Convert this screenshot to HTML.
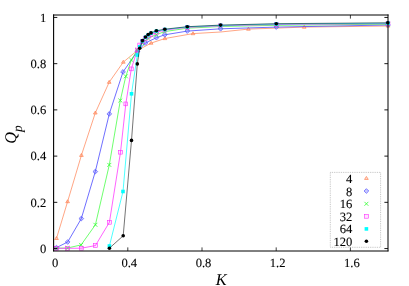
<!DOCTYPE html>
<html><head><meta charset="utf-8"><title>Qp vs K</title>
<style>
html,body{margin:0;padding:0;background:#fff;}
body{width:409px;height:286px;overflow:hidden;font-family:"Liberation Serif",serif;}
svg{display:block;will-change:transform;}
</style></head><body>
<svg width="409" height="286" viewBox="0 0 409 286">
<rect x="0" y="0" width="409" height="286" fill="#fff"/>
<polyline fill="none" stroke="#ff7f50" stroke-width="0.7" points="56.5,238.4 67.6,201.6 81.4,155.3 95.3,112.9 109.2,82.2 123.3,62.1 137.3,50.5 151.1,43.1 164.9,38.5 193.0,33.6 220.6,32.0 248.4,29.1 304.2,27.1 388.0,26.0"/>
<path d="M56.50 236.55 L58.35 239.51 L54.65 239.51 Z" fill="#ff7f50" fill-opacity="0.25" stroke="#ff7f50" stroke-width="0.7"/>
<path d="M67.60 199.75 L69.45 202.71 L65.75 202.71 Z" fill="#ff7f50" fill-opacity="0.25" stroke="#ff7f50" stroke-width="0.7"/>
<path d="M81.40 153.45 L83.25 156.41 L79.55 156.41 Z" fill="#ff7f50" fill-opacity="0.25" stroke="#ff7f50" stroke-width="0.7"/>
<path d="M95.30 111.05 L97.15 114.01 L93.45 114.01 Z" fill="#ff7f50" fill-opacity="0.25" stroke="#ff7f50" stroke-width="0.7"/>
<path d="M109.20 80.35 L111.05 83.31 L107.35 83.31 Z" fill="#ff7f50" fill-opacity="0.25" stroke="#ff7f50" stroke-width="0.7"/>
<path d="M123.30 60.25 L125.15 63.21 L121.45 63.21 Z" fill="#ff7f50" fill-opacity="0.25" stroke="#ff7f50" stroke-width="0.7"/>
<path d="M137.30 48.65 L139.15 51.61 L135.45 51.61 Z" fill="#ff7f50" fill-opacity="0.25" stroke="#ff7f50" stroke-width="0.7"/>
<path d="M151.10 41.25 L152.95 44.21 L149.25 44.21 Z" fill="#ff7f50" fill-opacity="0.25" stroke="#ff7f50" stroke-width="0.7"/>
<path d="M164.90 36.65 L166.75 39.61 L163.05 39.61 Z" fill="#ff7f50" fill-opacity="0.25" stroke="#ff7f50" stroke-width="0.7"/>
<path d="M193.00 31.75 L194.85 34.71 L191.15 34.71 Z" fill="#ff7f50" fill-opacity="0.25" stroke="#ff7f50" stroke-width="0.7"/>
<path d="M248.40 27.25 L250.25 30.21 L246.55 30.21 Z" fill="#ff7f50" fill-opacity="0.25" stroke="#ff7f50" stroke-width="0.7"/>
<path d="M304.20 25.25 L306.05 28.21 L302.35 28.21 Z" fill="#ff7f50" fill-opacity="0.25" stroke="#ff7f50" stroke-width="0.7"/>
<path d="M388.00 24.15 L389.85 27.11 L386.15 27.11 Z" fill="#ff7f50" fill-opacity="0.25" stroke="#ff7f50" stroke-width="0.7"/>
<polyline fill="none" stroke="#4a4aff" stroke-width="0.8" points="56.5,247.6 67.7,242.0 81.3,218.6 95.3,171.6 109.3,113.9 123.0,71.9 137.3,51.5 145.5,42.9 156.4,37.7 164.8,34.8 187.3,31.1 220.6,28.8 276.3,27.1 388.0,25.0"/>
<path d="M56.50 245.25 L58.85 247.60 L56.50 249.95 L54.15 247.60 Z" fill="#4a4aff" fill-opacity="0.3" stroke="#4a4aff" stroke-width="0.65"/>
<path d="M67.70 239.65 L70.05 242.00 L67.70 244.35 L65.35 242.00 Z" fill="#4a4aff" fill-opacity="0.3" stroke="#4a4aff" stroke-width="0.65"/>
<path d="M81.30 216.25 L83.65 218.60 L81.30 220.95 L78.95 218.60 Z" fill="#4a4aff" fill-opacity="0.3" stroke="#4a4aff" stroke-width="0.65"/>
<path d="M95.30 169.25 L97.65 171.60 L95.30 173.95 L92.95 171.60 Z" fill="#4a4aff" fill-opacity="0.3" stroke="#4a4aff" stroke-width="0.65"/>
<path d="M109.30 111.55 L111.65 113.90 L109.30 116.25 L106.95 113.90 Z" fill="#4a4aff" fill-opacity="0.3" stroke="#4a4aff" stroke-width="0.65"/>
<path d="M123.00 69.55 L125.35 71.90 L123.00 74.25 L120.65 71.90 Z" fill="#4a4aff" fill-opacity="0.3" stroke="#4a4aff" stroke-width="0.65"/>
<path d="M137.30 49.15 L139.65 51.50 L137.30 53.85 L134.95 51.50 Z" fill="#4a4aff" fill-opacity="0.3" stroke="#4a4aff" stroke-width="0.65"/>
<path d="M145.50 40.55 L147.85 42.90 L145.50 45.25 L143.15 42.90 Z" fill="#4a4aff" fill-opacity="0.3" stroke="#4a4aff" stroke-width="0.65"/>
<path d="M156.40 35.35 L158.75 37.70 L156.40 40.05 L154.05 37.70 Z" fill="#4a4aff" fill-opacity="0.3" stroke="#4a4aff" stroke-width="0.65"/>
<path d="M164.80 32.45 L167.15 34.80 L164.80 37.15 L162.45 34.80 Z" fill="#4a4aff" fill-opacity="0.3" stroke="#4a4aff" stroke-width="0.65"/>
<path d="M187.30 28.75 L189.65 31.10 L187.30 33.45 L184.95 31.10 Z" fill="#4a4aff" fill-opacity="0.3" stroke="#4a4aff" stroke-width="0.65"/>
<path d="M220.60 26.45 L222.95 28.80 L220.60 31.15 L218.25 28.80 Z" fill="#4a4aff" fill-opacity="0.3" stroke="#4a4aff" stroke-width="0.65"/>
<path d="M276.30 24.75 L278.65 27.10 L276.30 29.45 L273.95 27.10 Z" fill="#4a4aff" fill-opacity="0.3" stroke="#4a4aff" stroke-width="0.65"/>
<path d="M388.00 22.65 L390.35 25.00 L388.00 27.35 L385.65 25.00 Z" fill="#4a4aff" fill-opacity="0.3" stroke="#4a4aff" stroke-width="0.65"/>
<polyline fill="none" stroke="#30ff30" stroke-width="0.7" points="56.5,248.2 67.6,248.0 81.1,244.9 95.4,224.8 109.3,164.9 120.3,100.5 125.8,76.3 131.4,60.0 137.3,50.0 142.4,43.5 148.0,38.5 156.4,34.5 164.8,31.6 187.3,28.2 220.6,26.5 276.3,25.3 388.0,24.2"/>
<path d="M54.55 246.25 L58.45 250.15 M54.55 250.15 L58.45 246.25" fill="none" stroke="#30ff30" stroke-width="0.8"/>
<path d="M65.65 246.05 L69.55 249.95 M65.65 249.95 L69.55 246.05" fill="none" stroke="#30ff30" stroke-width="0.8"/>
<path d="M79.15 242.95 L83.05 246.85 M79.15 246.85 L83.05 242.95" fill="none" stroke="#30ff30" stroke-width="0.8"/>
<path d="M93.45 222.85 L97.35 226.75 M93.45 226.75 L97.35 222.85" fill="none" stroke="#30ff30" stroke-width="0.8"/>
<path d="M107.35 162.95 L111.25 166.85 M107.35 166.85 L111.25 162.95" fill="none" stroke="#30ff30" stroke-width="0.8"/>
<path d="M118.35 98.55 L122.25 102.45 M118.35 102.45 L122.25 98.55" fill="none" stroke="#30ff30" stroke-width="0.8"/>
<path d="M123.85 74.35 L127.75 78.25 M123.85 78.25 L127.75 74.35" fill="none" stroke="#30ff30" stroke-width="0.8"/>
<path d="M129.45 58.05 L133.35 61.95 M129.45 61.95 L133.35 58.05" fill="none" stroke="#30ff30" stroke-width="0.8"/>
<path d="M135.35 48.05 L139.25 51.95 M135.35 51.95 L139.25 48.05" fill="none" stroke="#30ff30" stroke-width="0.8"/>
<path d="M140.45 41.55 L144.35 45.45 M140.45 45.45 L144.35 41.55" fill="none" stroke="#30ff30" stroke-width="0.8"/>
<path d="M146.05 36.55 L149.95 40.45 M146.05 40.45 L149.95 36.55" fill="none" stroke="#30ff30" stroke-width="0.8"/>
<path d="M154.45 32.55 L158.35 36.45 M154.45 36.45 L158.35 32.55" fill="none" stroke="#30ff30" stroke-width="0.8"/>
<path d="M162.85 29.65 L166.75 33.55 M162.85 33.55 L166.75 29.65" fill="none" stroke="#30ff30" stroke-width="0.8"/>
<path d="M185.35 26.25 L189.25 30.15 M185.35 30.15 L189.25 26.25" fill="none" stroke="#30ff30" stroke-width="0.8"/>
<path d="M218.65 24.55 L222.55 28.45 M218.65 28.45 L222.55 24.55" fill="none" stroke="#30ff30" stroke-width="0.8"/>
<path d="M274.35 23.35 L278.25 27.25 M274.35 27.25 L278.25 23.35" fill="none" stroke="#30ff30" stroke-width="0.8"/>
<path d="M386.05 22.25 L389.95 26.15 M386.05 26.15 L389.95 22.25" fill="none" stroke="#30ff30" stroke-width="0.8"/>
<polyline fill="none" stroke="#ff20ff" stroke-width="0.7" points="56.5,248.3 67.6,248.3 81.3,248.2 95.4,245.6 109.4,222.3 120.5,152.2 125.8,103.9 131.3,68.9 137.3,50.0 139.7,45.0 142.4,41.5 145.5,38.5 148.3,36.3 151.0,34.8 156.4,32.3 164.8,30.1 187.3,27.4 220.6,25.8 276.3,24.5 388.0,23.6"/>
<rect x="54.60" y="246.40" width="3.80" height="3.80" fill="#ff20ff" fill-opacity="0.12" stroke="#ff20ff" stroke-width="0.55"/>
<rect x="65.70" y="246.40" width="3.80" height="3.80" fill="#ff20ff" fill-opacity="0.12" stroke="#ff20ff" stroke-width="0.55"/>
<rect x="79.40" y="246.30" width="3.80" height="3.80" fill="#ff20ff" fill-opacity="0.12" stroke="#ff20ff" stroke-width="0.55"/>
<rect x="93.50" y="243.70" width="3.80" height="3.80" fill="#ff20ff" fill-opacity="0.12" stroke="#ff20ff" stroke-width="0.55"/>
<rect x="107.50" y="220.40" width="3.80" height="3.80" fill="#ff20ff" fill-opacity="0.12" stroke="#ff20ff" stroke-width="0.55"/>
<rect x="118.60" y="150.30" width="3.80" height="3.80" fill="#ff20ff" fill-opacity="0.12" stroke="#ff20ff" stroke-width="0.55"/>
<rect x="123.90" y="102.00" width="3.80" height="3.80" fill="#ff20ff" fill-opacity="0.12" stroke="#ff20ff" stroke-width="0.55"/>
<rect x="129.40" y="67.00" width="3.80" height="3.80" fill="#ff20ff" fill-opacity="0.12" stroke="#ff20ff" stroke-width="0.55"/>
<rect x="135.40" y="48.10" width="3.80" height="3.80" fill="#ff20ff" fill-opacity="0.12" stroke="#ff20ff" stroke-width="0.55"/>
<rect x="137.80" y="43.10" width="3.80" height="3.80" fill="#ff20ff" fill-opacity="0.12" stroke="#ff20ff" stroke-width="0.55"/>
<rect x="140.50" y="39.60" width="3.80" height="3.80" fill="#ff20ff" fill-opacity="0.12" stroke="#ff20ff" stroke-width="0.55"/>
<rect x="143.60" y="36.60" width="3.80" height="3.80" fill="#ff20ff" fill-opacity="0.12" stroke="#ff20ff" stroke-width="0.55"/>
<rect x="146.40" y="34.40" width="3.80" height="3.80" fill="#ff20ff" fill-opacity="0.12" stroke="#ff20ff" stroke-width="0.55"/>
<rect x="149.10" y="32.90" width="3.80" height="3.80" fill="#ff20ff" fill-opacity="0.12" stroke="#ff20ff" stroke-width="0.55"/>
<rect x="154.50" y="30.40" width="3.80" height="3.80" fill="#ff20ff" fill-opacity="0.12" stroke="#ff20ff" stroke-width="0.55"/>
<rect x="162.90" y="28.20" width="3.80" height="3.80" fill="#ff20ff" fill-opacity="0.12" stroke="#ff20ff" stroke-width="0.55"/>
<rect x="185.40" y="25.50" width="3.80" height="3.80" fill="#ff20ff" fill-opacity="0.12" stroke="#ff20ff" stroke-width="0.55"/>
<rect x="218.70" y="23.90" width="3.80" height="3.80" fill="#ff20ff" fill-opacity="0.12" stroke="#ff20ff" stroke-width="0.55"/>
<rect x="274.40" y="22.60" width="3.80" height="3.80" fill="#ff20ff" fill-opacity="0.12" stroke="#ff20ff" stroke-width="0.55"/>
<rect x="386.10" y="21.70" width="3.80" height="3.80" fill="#ff20ff" fill-opacity="0.12" stroke="#ff20ff" stroke-width="0.55"/>
<polyline fill="none" stroke="#00ffff" stroke-width="0.7" points="109.4,246.0 123.0,191.5 131.5,93.8 137.3,55.0 139.7,46.8 142.4,40.9 145.5,37.3 148.3,34.8 151.0,33.2 156.4,31.1 164.8,29.5 187.3,26.9 220.6,25.4 276.3,24.0 388.0,23.2"/>
<rect x="107.6" y="244.2" width="3.6" height="3.6" fill="#00ffff"/>
<rect x="121.2" y="189.7" width="3.6" height="3.6" fill="#00ffff"/>
<rect x="129.7" y="92.0" width="3.6" height="3.6" fill="#00ffff"/>
<rect x="135.5" y="53.2" width="3.6" height="3.6" fill="#00ffff"/>
<rect x="137.9" y="45.0" width="3.6" height="3.6" fill="#00ffff"/>
<rect x="140.6" y="39.1" width="3.6" height="3.6" fill="#00ffff"/>
<rect x="143.7" y="35.5" width="3.6" height="3.6" fill="#00ffff"/>
<rect x="146.5" y="33.0" width="3.6" height="3.6" fill="#00ffff"/>
<rect x="149.2" y="31.4" width="3.6" height="3.6" fill="#00ffff"/>
<rect x="154.6" y="29.3" width="3.6" height="3.6" fill="#00ffff"/>
<rect x="163.0" y="27.7" width="3.6" height="3.6" fill="#00ffff"/>
<rect x="185.5" y="25.1" width="3.6" height="3.6" fill="#00ffff"/>
<rect x="218.8" y="23.6" width="3.6" height="3.6" fill="#00ffff"/>
<rect x="274.5" y="22.2" width="3.6" height="3.6" fill="#00ffff"/>
<rect x="386.2" y="21.4" width="3.6" height="3.6" fill="#00ffff"/>
<polyline fill="none" stroke="#000" stroke-width="0.55" points="109.4,248.2 123.2,235.8 131.5,140.4 137.3,63.9 139.7,48.3 142.5,40.6 145.5,37.0 148.2,34.5 151.0,32.9 156.4,30.8 164.8,29.2 187.3,26.7 220.6,25.1 276.3,23.7 387.8,22.8"/>
<circle cx="109.4" cy="248.2" r="1.8" fill="#000"/>
<circle cx="123.2" cy="235.8" r="1.8" fill="#000"/>
<circle cx="131.5" cy="140.4" r="1.8" fill="#000"/>
<circle cx="137.3" cy="63.9" r="1.8" fill="#000"/>
<circle cx="139.7" cy="48.3" r="1.8" fill="#000"/>
<circle cx="142.5" cy="40.6" r="1.8" fill="#000"/>
<circle cx="145.5" cy="37.0" r="1.8" fill="#000"/>
<circle cx="148.2" cy="34.5" r="1.8" fill="#000"/>
<circle cx="151.0" cy="32.9" r="1.8" fill="#000"/>
<circle cx="156.4" cy="30.8" r="1.8" fill="#000"/>
<circle cx="164.8" cy="29.2" r="1.8" fill="#000"/>
<circle cx="187.3" cy="26.7" r="1.8" fill="#000"/>
<circle cx="220.6" cy="25.1" r="1.8" fill="#000"/>
<circle cx="276.3" cy="23.7" r="1.8" fill="#000"/>
<circle cx="387.8" cy="22.8" r="1.8" fill="#000"/>
<path d="M53.60 14.50 V251.30" stroke="#000" stroke-width="1.1"/>
<path d="M53.00 15.00 H388.50" stroke="#000" stroke-width="1"/>
<path d="M388.00 14.50 V251.30" stroke="#000" stroke-width="1"/>
<path d="M53.00 251.00 H388.50" stroke="#000" stroke-width="1"/>
<path d="M54.00 248.55 h3.3 M388.00 248.55 h-3.6" stroke="#000" stroke-width="0.9"/>
<path d="M54.00 202.33 h3.3 M388.00 202.33 h-3.6" stroke="#000" stroke-width="0.9"/>
<path d="M54.00 156.11 h3.3 M388.00 156.11 h-3.6" stroke="#000" stroke-width="0.9"/>
<path d="M54.00 109.89 h3.3 M388.00 109.89 h-3.6" stroke="#000" stroke-width="0.9"/>
<path d="M54.00 63.67 h3.3 M388.00 63.67 h-3.6" stroke="#000" stroke-width="0.9"/>
<path d="M54.00 17.45 h3.3 M388.00 17.45 h-3.6" stroke="#000" stroke-width="0.9"/>
<path d="M127.80 251.00 v-3.6 M127.80 15.00 v3.6" stroke="#000" stroke-width="0.75"/>
<path d="M202.00 251.00 v-3.6 M202.00 15.00 v3.6" stroke="#000" stroke-width="0.75"/>
<path d="M276.20 251.00 v-3.6 M276.20 15.00 v3.6" stroke="#000" stroke-width="0.75"/>
<path d="M350.40 251.00 v-3.6 M350.40 15.00 v3.6" stroke="#000" stroke-width="0.75"/>
<text x="46.3" y="252.85" text-anchor="end" style="font-family:'Liberation Serif',serif;font-size:12.6px;fill:#000;stroke:#000;stroke-width:0.1px;text-rendering:geometricPrecision">0</text>
<text x="46.3" y="206.63" text-anchor="end" style="font-family:'Liberation Serif',serif;font-size:12.6px;fill:#000;stroke:#000;stroke-width:0.1px;text-rendering:geometricPrecision">0.2</text>
<text x="46.3" y="160.41" text-anchor="end" style="font-family:'Liberation Serif',serif;font-size:12.6px;fill:#000;stroke:#000;stroke-width:0.1px;text-rendering:geometricPrecision">0.4</text>
<text x="46.3" y="114.19" text-anchor="end" style="font-family:'Liberation Serif',serif;font-size:12.6px;fill:#000;stroke:#000;stroke-width:0.1px;text-rendering:geometricPrecision">0.6</text>
<text x="46.3" y="67.97" text-anchor="end" style="font-family:'Liberation Serif',serif;font-size:12.6px;fill:#000;stroke:#000;stroke-width:0.1px;text-rendering:geometricPrecision">0.8</text>
<text x="46.3" y="21.75" text-anchor="end" style="font-family:'Liberation Serif',serif;font-size:12.6px;fill:#000;stroke:#000;stroke-width:0.1px;text-rendering:geometricPrecision">1</text>
<text x="55.1" y="267.3" text-anchor="middle" style="font-family:'Liberation Serif',serif;font-size:12.6px;fill:#000;stroke:#000;stroke-width:0.1px;text-rendering:geometricPrecision">0</text>
<text x="129.3" y="267.3" text-anchor="middle" style="font-family:'Liberation Serif',serif;font-size:12.6px;fill:#000;stroke:#000;stroke-width:0.1px;text-rendering:geometricPrecision">0.4</text>
<text x="203.5" y="267.3" text-anchor="middle" style="font-family:'Liberation Serif',serif;font-size:12.6px;fill:#000;stroke:#000;stroke-width:0.1px;text-rendering:geometricPrecision">0.8</text>
<text x="277.7" y="267.3" text-anchor="middle" style="font-family:'Liberation Serif',serif;font-size:12.6px;fill:#000;stroke:#000;stroke-width:0.1px;text-rendering:geometricPrecision">1.2</text>
<text x="351.9" y="267.3" text-anchor="middle" style="font-family:'Liberation Serif',serif;font-size:12.6px;fill:#000;stroke:#000;stroke-width:0.1px;text-rendering:geometricPrecision">1.6</text>
<text x="221.2" y="285.0" text-anchor="middle" style="font-family:'Liberation Serif',serif;font-size:16.3px;font-style:italic;fill:#000;text-rendering:geometricPrecision">K</text>
<g transform="translate(16.4,134.4) rotate(-90)"><text x="0" y="0" text-anchor="middle" style="font-family:'Liberation Serif',serif;font-size:16.3px;font-style:italic;fill:#000;text-rendering:geometricPrecision">Q<tspan dy="5.6" style="font-size:13.5px">p</tspan></text></g>
<rect x="330.3" y="172.4" width="50.3" height="74.9" fill="none" stroke="#999" stroke-width="0.6" stroke-dasharray="0.9,0.9"/>
<text x="352.4" y="182.8" text-anchor="end" style="font-family:'Liberation Serif',serif;font-size:12.6px;fill:#000;stroke:#000;stroke-width:0.1px;text-rendering:geometricPrecision">4</text>
<path d="M366.40 176.45 L368.25 179.41 L364.55 179.41 Z" fill="#ff7f50" fill-opacity="0.25" stroke="#ff7f50" stroke-width="0.7"/>
<text x="352.4" y="195.5" text-anchor="end" style="font-family:'Liberation Serif',serif;font-size:12.6px;fill:#000;stroke:#000;stroke-width:0.1px;text-rendering:geometricPrecision">8</text>
<path d="M366.40 188.65 L368.75 191.00 L366.40 193.35 L364.05 191.00 Z" fill="#4a4aff" fill-opacity="0.3" stroke="#4a4aff" stroke-width="0.65"/>
<text x="352.4" y="208.3" text-anchor="end" style="font-family:'Liberation Serif',serif;font-size:12.6px;fill:#000;stroke:#000;stroke-width:0.1px;text-rendering:geometricPrecision">16</text>
<path d="M364.45 201.85 L368.35 205.75 M364.45 205.75 L368.35 201.85" fill="none" stroke="#30ff30" stroke-width="0.8"/>
<text x="352.4" y="220.8" text-anchor="end" style="font-family:'Liberation Serif',serif;font-size:12.6px;fill:#000;stroke:#000;stroke-width:0.1px;text-rendering:geometricPrecision">32</text>
<rect x="364.50" y="214.40" width="3.80" height="3.80" fill="#ff20ff" fill-opacity="0.12" stroke="#ff20ff" stroke-width="0.55"/>
<text x="352.4" y="233.4" text-anchor="end" style="font-family:'Liberation Serif',serif;font-size:12.6px;fill:#000;stroke:#000;stroke-width:0.1px;text-rendering:geometricPrecision">64</text>
<rect x="364.6" y="227.1" width="3.6" height="3.6" fill="#00ffff"/>
<text x="352.4" y="245.8" text-anchor="end" style="font-family:'Liberation Serif',serif;font-size:12.6px;fill:#000;stroke:#000;stroke-width:0.1px;text-rendering:geometricPrecision">120</text>
<circle cx="366.4" cy="241.3" r="1.8" fill="#000"/>
</svg>
</body></html>
